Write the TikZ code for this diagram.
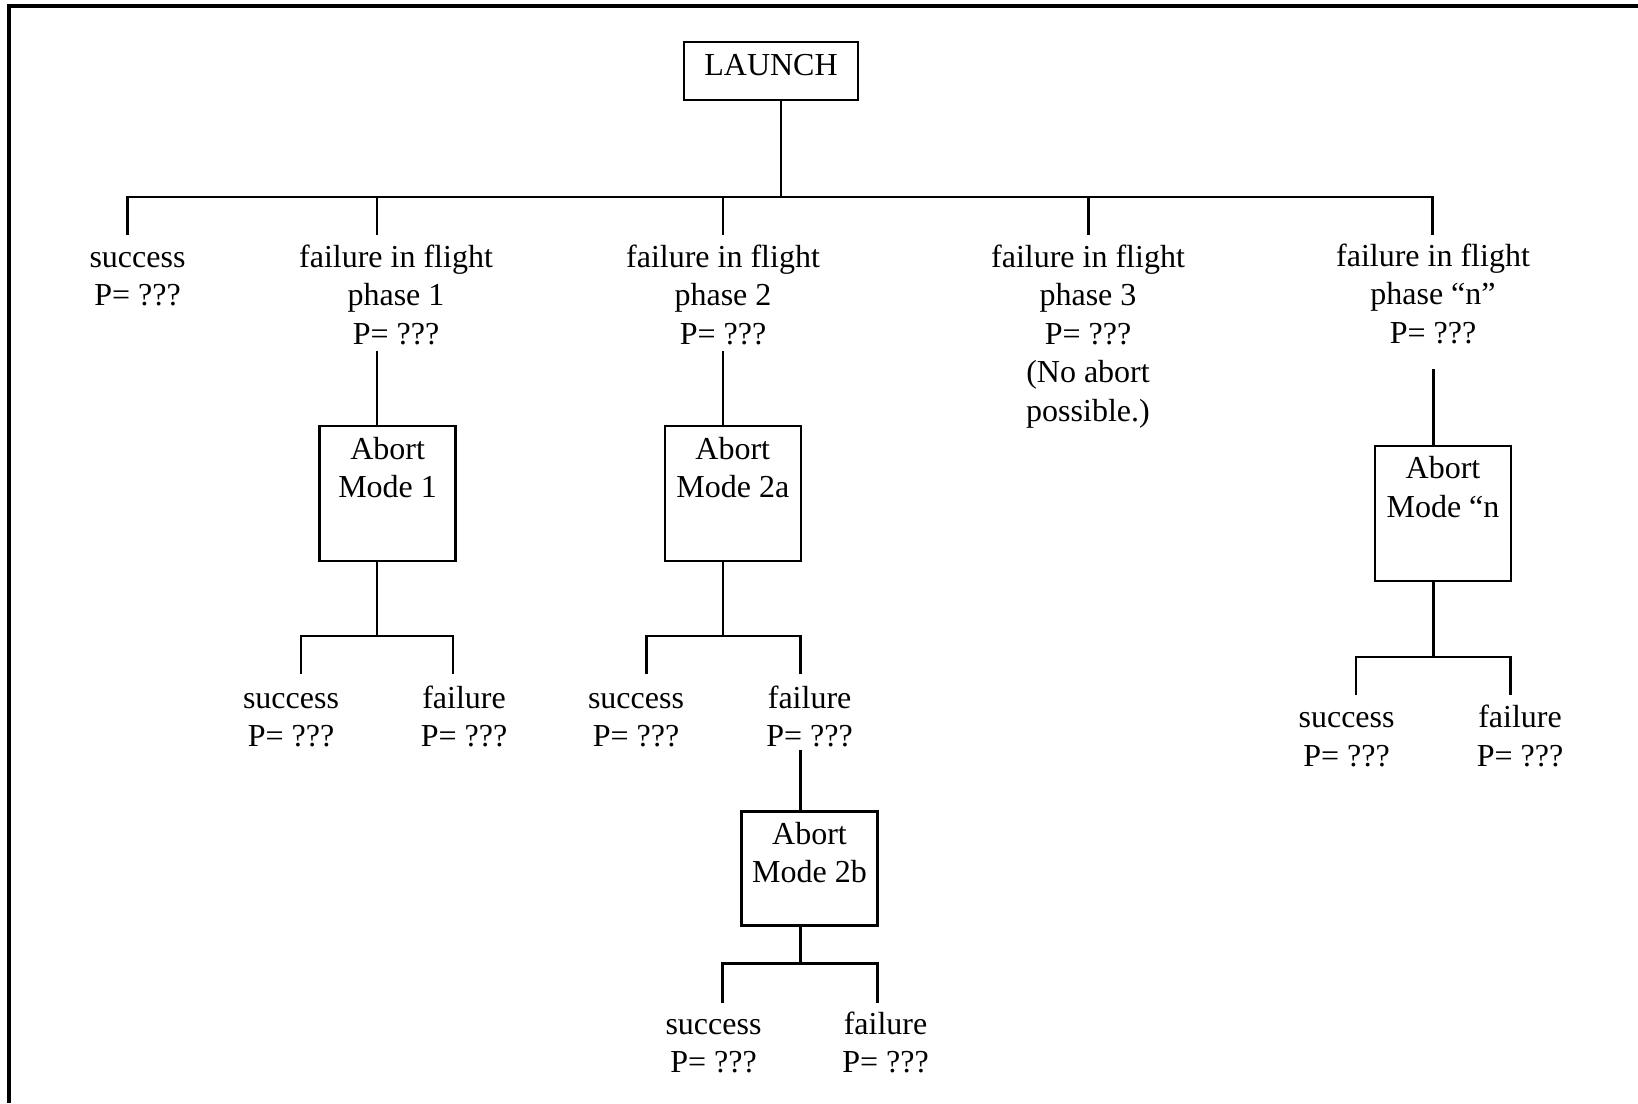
\documentclass[tikz,border=0pt]{standalone}
\usepackage{fontspec}
\setmainfont{Liberation Serif}
\begin{document}
% text nodes are placed by the baseline of their last line
\begin{tikzpicture}[x=0.5pt,y=-0.5pt,
  every node/.style={font=\fontsize{16}{19.25}\selectfont},
  lbl/.style={inner sep=0pt, align=center, anchor=base},
  abox/.style={draw, line width=1.3pt, inner sep=0pt, minimum width=68pt, minimum height=67.5pt},
  lbox/.style={draw, line width=1.3pt, inner sep=0pt, minimum width=87pt, minimum height=29pt},
  wire/.style={line width=1.3pt},
  frame/.style={line width=1.6pt}]
\useasboundingbox (0,0) rectangle (1638,1103);
% outer frame (top and left edges only)
\draw[frame] (1638,6) -- (9,6) -- (9,1103);

% root
\node[lbox] (launch) at (771,71) {};
\node[lbl] (launchtxt) at (771,75.5) {LAUNCH};

% first level
\coordinate (hub) at (781,197);
\coordinate (e0) at (127.5,197);  \coordinate (t0) at (127.5,235);
\coordinate (e1) at (377,197);    \coordinate (t1) at (377,235);
\coordinate (e2) at (723,197);    \coordinate (t2) at (723,235);
\coordinate (e3) at (1088.6,197); \coordinate (t3) at (1088.6,235);
\coordinate (e4) at (1432.5,197); \coordinate (t4) at (1432.5,235);
\draw[wire] (hub |- launch.south) -- (hub);
\draw[wire] (t0) -- (e0) -- (e4) -- (t4);
\draw[wire] (e1) -- (t1);
\draw[wire] (e2) -- (t2);
\draw[wire] (e3) -- (t3);

\node[lbl] (succ) at (137.5,305.5) {success\\P= ???};
\node[lbl] (ph1) at (396,344) {failure in flight\\phase 1\\P= ???};
\node[lbl] (ph2) at (723,344) {failure in flight\\phase 2\\P= ???};
\node[lbl] (ph3) at (1088,421) {failure in flight\\phase 3\\P= ???\\(No abort\\possible.)};
\node[lbl] (phn) at (1433,343) {failure in flight\\phase “n”\\P= ???};

% phase 1 abort branch
\node[abox] (m1) at (387.6,493.5) {};
\node[lbl] (m1txt) at (387.6,497.5) {Abort\\Mode 1};
\coordinate (s1) at (377,351);
\coordinate (c1) at (377,636);
\draw[wire] (s1) -- (s1 |- m1.north);
\draw[wire] (c1 |- m1.south) -- (c1);
\coordinate (c1l) at (301,636); \coordinate (c1r) at (453,636);
\coordinate (c1lb) at (301,674); \coordinate (c1rb) at (453,674);
\draw[wire] (c1lb) -- (c1l) -- (c1r) -- (c1rb);
\node[lbl] (m1s) at (291,746.5) {success\\P= ???};
\node[lbl] (m1f) at (464,746.5) {failure\\P= ???};

% phase 2 abort branch
\node[abox] (m2a) at (732.8,493.5) {};
\node[lbl] (m2atxt) at (732.8,497.5) {Abort\\Mode 2a};
\coordinate (s2) at (723,351);
\coordinate (c2) at (723,636);
\draw[wire] (s2) -- (s2 |- m2a.north);
\draw[wire] (c2 |- m2a.south) -- (c2);
\coordinate (c2l) at (646.7,636); \coordinate (c2r) at (800.2,636);
\coordinate (c2lb) at (646.7,674); \coordinate (c2rb) at (800.2,674);
\draw[wire] (c2lb) -- (c2l) -- (c2r) -- (c2rb);
\node[lbl] (m2as) at (636,746.5) {success\\P= ???};
\node[lbl] (m2af) at (809.6,746.5) {failure\\P= ???};

\node[abox, minimum height=57pt] (m2b) at (809.5,868.7) {};
\node[lbl] (m2btxt) at (809.5,882.5) {Abort\\Mode 2b};
\coordinate (s2b) at (800.2,750);
\coordinate (c2b) at (800.2,963.3);
\draw[wire] (s2b) -- (s2b |- m2b.north);
\draw[wire] (c2b |- m2b.south) -- (c2b);
\coordinate (c2bl) at (722.7,963.3); \coordinate (c2br) at (877.3,963.3);
\coordinate (c2blb) at (722.7,1002.7); \coordinate (c2brb) at (877.3,1002.7);
\draw[wire] (c2blb) -- (c2bl) -- (c2br) -- (c2brb);
\node[lbl] (m2bs) at (713.5,1072.5) {success\\P= ???};
\node[lbl] (m2bf) at (885.5,1072.5) {failure\\P= ???};

% phase n abort branch
\node[abox] (mn) at (1443,513.4) {};
\node[lbl] (mntxt) at (1443,517) {Abort\\Mode “n};
\coordinate (sn) at (1433.3,369);
\coordinate (cn) at (1433.3,657);
\draw[wire] (sn) -- (sn |- mn.north);
\draw[wire] (cn |- mn.south) -- (cn);
\coordinate (cnl) at (1356,657); \coordinate (cnr) at (1510.6,657);
\coordinate (cnlb) at (1356,694.7); \coordinate (cnrb) at (1510.6,694.7);
\draw[wire] (cnlb) -- (cnl) -- (cnr) -- (cnrb);
\node[lbl] (mns) at (1346.6,766) {success\\P= ???};
\node[lbl] (mnf) at (1520,766) {failure\\P= ???};
\end{tikzpicture}
\end{document}
